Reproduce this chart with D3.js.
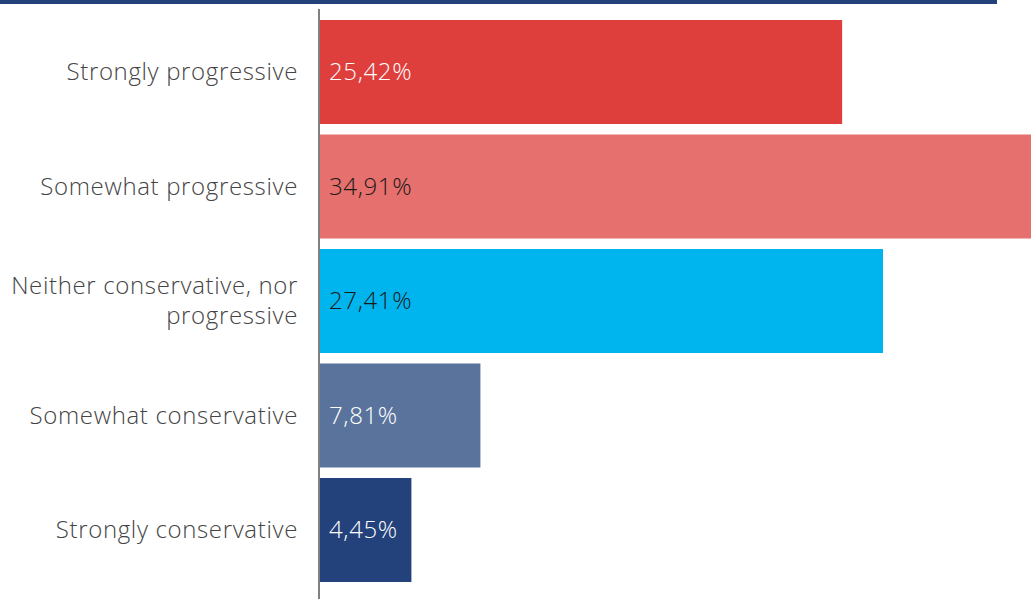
<!DOCTYPE html>
<html><head><meta charset="utf-8">
<script src="https://cdn.jsdelivr.net/npm/d3@7"></script>
<style>body{margin:0;background:#fff;overflow:hidden}svg{display:block}</style>
</head><body>
<svg id="c" width="1031" height="599"></svg>
<script>
const categories = ["Strongly progressive","Somewhat progressive","Neither conservative, nor progressive","Somewhat conservative","Strongly conservative"];
const labelLines = [["Strongly progressive"],["Somewhat progressive"],["Neither conservative, nor","progressive"],["Somewhat conservative"],["Strongly conservative"]];
const values = [25.42, 34.91, 27.41, 7.81, 4.45];
const valueLabels = ["25,42%","34,91%","27,41%","7,81%","4,45%"];
const colors = ["#de3e3c","#e5706d","#00b5ee","#5a739c","#23417a"];
const labelColors = ["#ffffff","#1a1a1a","#1a1a1a","#ffffff","#ffffff"];

const svg = d3.select("#c");
const font = "'Open Sans', sans-serif";
const x = d3.scaleLinear().domain([0, 50]).range([320, 1347]);
const y = d3.scaleBand().domain(categories).range([20, 582]).paddingInner(0.0917).paddingOuter(0);

svg.append("rect").attr("x",0).attr("y",0).attr("width",997).attr("height",4).attr("fill","#23417a");

svg.selectAll("rect.bar").data(values).join("rect").attr("class","bar")
  .attr("x", x(0)).attr("y",(d,i)=>y(categories[i]))
  .attr("width", d=>x(d)-x(0)).attr("height", y.bandwidth())
  .attr("fill",(d,i)=>colors[i]);

svg.append("line").attr("x1",319).attr("x2",319).attr("y1",9).attr("y2",599)
  .attr("stroke","#808080").attr("stroke-width",2);

svg.selectAll("text.val").data(values).join("text").attr("class","val")
  .attr("x", x(0)+9).attr("y",(d,i)=>y(categories[i])+y.bandwidth()/2)
  .attr("dy","0.35em").attr("font-family",font).attr("font-size",24).attr("font-weight",300)
  .attr("letter-spacing","0.65px")
  .attr("fill",(d,i)=>labelColors[i]).text((d,i)=>valueLabels[i]);

const g = svg.selectAll("text.cat").data(categories).join("text").attr("class","cat")
  .attr("text-anchor","end").attr("font-family",font).attr("font-size",24).attr("font-weight",300)
  .attr("letter-spacing","0.65px").attr("fill","#444");
g.each(function(d,i){
  const lines = labelLines[i];
  const cy = y(d)+y.bandwidth()/2;
  const lh = 30;
  d3.select(this).selectAll("tspan").data(lines).join("tspan")
    .attr("x",298).attr("y",(l,j)=>cy + (j-(lines.length-1)/2)*lh).attr("dy","0.35em").text(l=>l);
});
</script>
</body></html>
